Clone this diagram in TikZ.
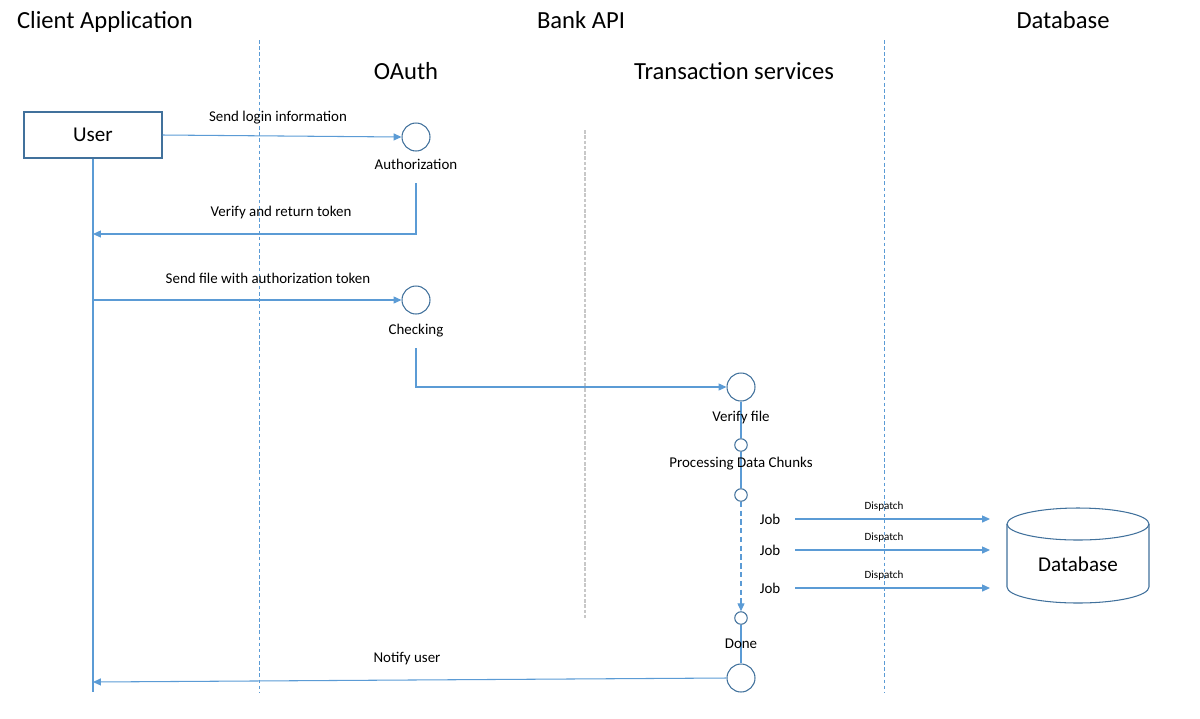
\documentclass[tikz,border=0pt]{standalone}
\usepackage{fontspec}
\setmainfont{Carlito}
\usepackage{tikz}
\usetikzlibrary{arrows}
\usetikzlibrary{arrows.meta}

\definecolor{lineblue}{HTML}{5B9BD5}
\definecolor{edgeblue}{HTML}{41719C}
\definecolor{lanegray}{HTML}{C8C8C8}

\tikzset{
  title/.style={font=\fontsize{14}{16}\selectfont, text height=10pt, text depth=3pt},
  big/.style={font=\fontsize{12}{14}\selectfont},
  msg/.style={font=\fontsize{8.5}{10}\selectfont, text height=6.5pt, text depth=1.5pt},
  small/.style={font=\fontsize{6.3}{7.5}\selectfont},
  state/.style={circle, draw=edgeblue, fill=white, line width=0.6pt, inner sep=0pt, minimum size=0.56cm},
  dot/.style={circle, draw=edgeblue, fill=white, line width=0.6pt, inner sep=0pt, minimum size=0.25cm},
  flow/.style={-{Triangle[length=4.5pt, width=4pt]}, lineblue, line width=0.6pt},
  life/.style={lineblue, line width=0.6pt},
  lane/.style={lineblue, line width=0.5pt, dash pattern=on 2pt off 1.5pt},
}

\begin{document}
\begin{tikzpicture}[x=0.02cm, y=-0.02cm]
\useasboundingbox (0,0) rectangle (1200,718);

\node[title] (clientT) at (105,22) {Client Application};
\node[title] (bankT) at (581,22) {Bank API};
\node[title] (dbT) at (1063,22) {Database};
\node[title] (oauthT) at (406,73) {OAuth};
\node[title] (transT) at (734,73) {Transaction services};

\draw[lane] (259,40) -- (259,692);
\draw[lane] (884,40) -- (884,692);
\draw[lanegray, line width=0.6pt, dash pattern=on 2pt off 1pt] (585,130) -- (585,618);

\node[big, draw=edgeblue, line width=0.6pt, minimum width=2.76cm, minimum height=0.92cm] (user) at (93,135) {User};
\coordinate (userEnd) at (93,692);
\draw[life] (user.south) -- (userEnd);

\node[state] (auth) at (416,137) {};
\node[msg] (authL) at (416,165) {Authorization};
\draw[flow] (user.east) -- (auth.west);
\node[msg] (loginL) at (278,117) {Send login information};

\coordinate (tokenEnd) at (93,234);
\draw[flow] ([yshift=-0.1cm]authL.south) -- (authL.south |- tokenEnd) -- (tokenEnd);
\node[msg] (tokenL) at (281,212) {Verify and return token};

\coordinate (sendStart) at (93,300);
\node[state] (check) at (416,300) {};
\node[msg] (checkL) at (416,330) {Checking};
\draw[flow] (sendStart) -- (check.west);
\node[msg] (sendL) at (268,279) {Send file with authorization token};

\node[state] (verify) at (741,387) {};
\draw[flow] ([yshift=-0.1cm]checkL.south) -- (checkL.south |- verify) -- (verify.west);

\node[dot] (chunkA) at (741,445) {};
\node[dot] (chunkB) at (741,495) {};
\node[dot] (doneDot) at (741,618) {};
\node[state] (final) at (741,678) {};
\draw[life] (verify.south) -- (chunkA.north);
\draw[life] (chunkA.south) -- (chunkB.north);
\draw[-{Triangle[length=4.5pt, width=4pt]}, lineblue, line width=0.6pt, dash pattern=on 3pt off 2pt] (chunkB.south) -- (doneDot.north);
\draw[life] (doneDot.south) -- (final.north);
\node[msg] (verifyL) at (741,417) {Verify file};
\node[msg] (chunkL) at (741,463) {Processing Data Chunks};
\node[msg] (doneL) at (741,644) {Done};

\draw[edgeblue, line width=0.6pt, fill=white] (1007,524) -- (1007,587) arc[start angle=180, end angle=360, x radius=1.42cm, y radius=0.32cm] -- (1149,524);
\draw[edgeblue, line width=0.6pt] (1078,524) ellipse [x radius=1.42cm, y radius=0.32cm];
\node[big] (db) at (1078,564) {Database};

\node[msg] (jobA) at (770,520) {Job};
\node[msg] (jobB) at (770,551) {Job};
\node[msg] (jobC) at (770,589) {Job};
\coordinate (jobAs) at (795,519);
\coordinate (jobBs) at (795,550);
\coordinate (jobCs) at (795,588);
\coordinate (jobAe) at (990,519);
\coordinate (jobBe) at (990,550);
\coordinate (jobCe) at (990,588);
\draw[flow] (jobAs) -- (jobAe);
\draw[flow] (jobBs) -- (jobBe);
\draw[flow] (jobCs) -- (jobCe);
\node[small] (dispA) at (884,507) {Dispatch};
\node[small] (dispB) at (884,538) {Dispatch};
\node[small] (dispC) at (884,576) {Dispatch};

\coordinate (notifyEnd) at (93,682);
\draw[flow] (final.west) -- (notifyEnd);
\node[msg] (notifyL) at (407,658) {Notify user};

\end{tikzpicture}
\end{document}
